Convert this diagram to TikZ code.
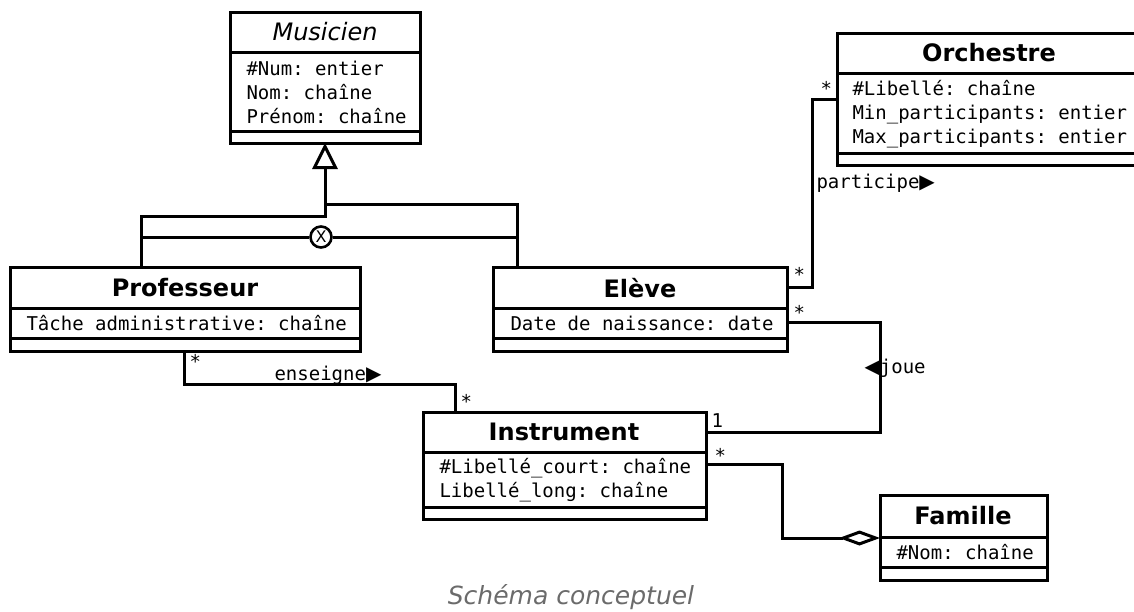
\documentclass[tikz,border=0pt]{standalone}
\usepackage{fontspec}
\setmainfont{DejaVu Sans}
\setmonofont{DejaVu Sans Mono}
\newfontfamily\pointerfont{DejaVu Sans}
\usetikzlibrary{arrows.meta}

% UML class box: name, x1, y1, x2, y2, first separator y, second separator y
\newcommand\umlclass[7]{%
  \node[classbox, minimum width={(#4-#2)*1pt}, minimum height={(#5-#3)*1pt}]
    (#1) at (#2,#3) {};
  \draw (#1.north west |- 0,#6) -- (#1.north east |- 0,#6);
  \draw (#1.north west |- 0,#7) -- (#1.north east |- 0,#7);
}
\newcommand\rpointer{{\pointerfont\fontsize{20}{20}\selectfont ▶}}
\newcommand\lpointer{{\pointerfont\fontsize{20}{20}\selectfont ◀}}

\begin{document}
\begin{tikzpicture}[x=1pt,y=-1pt,line width=3pt,
  classbox/.style={draw,rectangle,inner sep=0pt,outer sep=0pt,anchor=north west},
  ctitle/.style={font=\fontsize{24}{24}\selectfont\bfseries,inner sep=0pt},
  cattr/.style={font=\fontsize{19}{24}\selectfont\ttfamily,anchor=west,align=left,inner sep=0pt},
  mult/.style={font=\fontsize{19}{19}\selectfont\ttfamily,anchor=base west,inner sep=0pt},
  gen/.style={-{Triangle[open,length=26pt,width=25pt]}},
  agg/.style={-{Diamond[open,length=41pt,width=15pt]}}]
\useasboundingbox (0,0) rectangle (1134,611);

% classes
\umlclass{mus}{230}{12}{420}{143}{52}{131}
\umlclass{orch}{837}{33}{1141}{165}{73}{153}
\umlclass{prof}{10}{267}{360}{351}{308}{338}
\umlclass{eleve}{493}{267}{787}{351}{308}{338}
\umlclass{instr}{423}{412}{706}{519}{452}{507}
\umlclass{fam}{880}{495}{1047}{580}{537}{567}

% class names
\node[font=\fontsize{24}{24}\selectfont\itshape,inner sep=0pt] (mus-t) at (325,32) {Musicien};
\node[ctitle] (orch-t) at (989,53) {Orchestre};
\node[ctitle] (prof-t) at (185,288) {Professeur};
\node[ctitle] (eleve-t) at (640,288) {Elève};
\node[ctitle] (instr-t) at (564,432) {Instrument};
\node[ctitle] (fam-t) at (963,516) {Famille};

% attributes
\node[cattr] (mus-a) at (245,92) {\#Num: entier\\Nom: chaîne\\Prénom: chaîne};
\node[cattr] (orch-a) at (851,114) {\#Libellé: chaîne\\Min\_participants: entier\\Max\_participants: entier};
\node[cattr] (prof-a) at (25,323) {Tâche administrative: chaîne};
\node[cattr] (eleve-a) at (509,323) {Date de naissance: date};
\node[cattr] (instr-a) at (438,480) {\#Libellé\_court: chaîne\\Libellé\_long: chaîne};
\node[cattr] (fam-a) at (895,552) {\#Nom: chaîne};

% generalization with exclusive partition
\coordinate (gl) at (141,216);
\coordinate (gr) at (517,204);
\coordinate (gj) at (325,216);
\draw[gen] (prof.north -| gl) -- (gl) -- (gj) -- (mus.south);
\draw (eleve.north -| gr) -- (gr) -- (gr -| gj);
\node[draw,circle,inner sep=0pt,minimum size=21pt,line width=2.6pt,
      font=\fontsize{16}{16}\selectfont] (xor) at (321,237) {X};
\draw (gl |- xor) -- (xor) -- (gr |- xor);

% enseigne
\coordinate (e1) at (184,384);
\coordinate (e2) at (455,384);
\draw (prof.south -| e1) -- (e1) -- (e2) -- (instr.north -| e2);
\node[mult] (e-m1) at (188,368) {*};
\node[mult] (e-m2) at (459,408) {*};
\node[mult] (e-l) at (273,380) {enseigne\rpointer};

% participe
\coordinate (p1) at (812,287);
\coordinate (p2) at (812,99);
\draw (eleve.east |- p1) -- (p1) -- (p2) -- (orch.west |- p2);
\node[mult] (p-m1) at (792,281) {*};
\node[mult] (p-m2) at (819,95) {*};
\node[mult] (p-l) at (815,188) {participe\rpointer};

% joue
\coordinate (j1) at (880,322);
\coordinate (j2) at (880,432);
\draw (eleve.east |- j1) -- (j1) -- (j2) -- (instr.east |- j2);
\node[mult] (j-m1) at (792,319) {*};
\node[mult] (j-m2) at (710,427) {1};
\node[mult] (j-l) at (863,373) {\lpointer joue};

% instrument family (aggregation)
\coordinate (f1) at (782,464);
\coordinate (f2) at (782,538);
\draw[agg] (instr.east |- f1) -- (f1) -- (f2) -- (fam.west |- f2);
\node[mult] (f-m1) at (713,462) {*};

% caption
\node[font=\fontsize{25}{25}\selectfont\itshape,text=black!58,inner sep=0pt] (caption) at (571,597) {Schéma conceptuel};
\end{tikzpicture}
\end{document}
